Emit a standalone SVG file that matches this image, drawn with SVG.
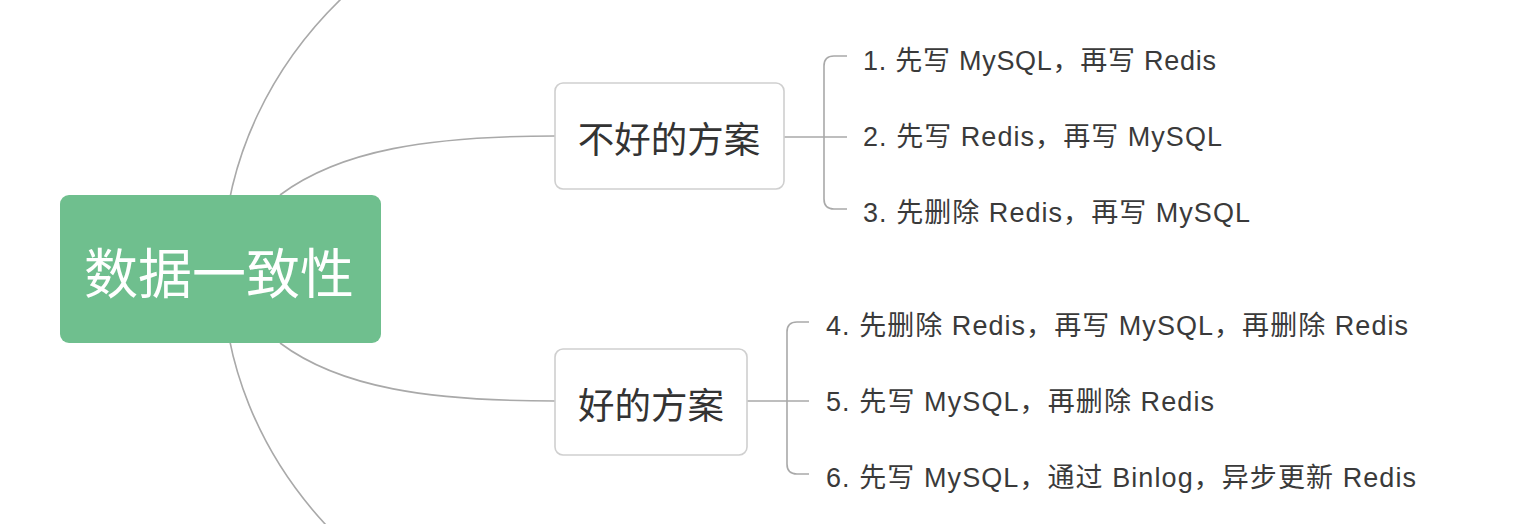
<svg xmlns="http://www.w3.org/2000/svg" width="1534" height="524" viewBox="0 0 1534 524">
<style>
.conn{fill:none;stroke:#a9a9a9;stroke-width:1.6}
.box{fill:#ffffff;stroke:#cfcfcf;stroke-width:1.6}
.root{fill:#6fbf8e}
.t{font-family:"Liberation Sans","Noto Sans CJK SC",sans-serif;fill:#3a3a3a;dominant-baseline:central}
.tb{font-family:"Noto Sans CJK SC",sans-serif;fill:#333333;font-size:36.5px;dominant-baseline:central;text-anchor:middle}
.leaf{font-size:27px}
</style>
<rect width="1534" height="524" fill="#ffffff"/>
<g id="connectors">
<path class="conn" d="M341,-1 A449,400 0 0 0 326,525"/>
<path class="conn" d="M280,195 C340,150 430,136 555,136"/>
<path class="conn" d="M280,343 C340,388 430,401 555,401"/>
<path class="conn" d="M784,137 L847,137"/>
<path class="conn" d="M847,56 L834,56 Q824,56 824,66 L824,199 Q824,209 834,209 L847,209"/>
<path class="conn" d="M747,401 L809,401"/>
<path class="conn" d="M809,322 L797,322 Q787,322 787,332 L787,464 Q787,474 797,474 L809,474"/>
</g>
<g id="root">
<rect class="root" x="60" y="195" width="321" height="148" rx="9"/>
<text class="tb" x="219" y="270" style="fill:#ffffff;font-size:54px">数据一致性</text>
</g>
<g id="bad">
<rect class="box" x="555" y="83" width="229" height="106" rx="8"/>
<text class="tb" x="669" y="137">不好的方案</text>
</g>
<g id="good">
<rect class="box" x="555" y="349" width="192" height="106" rx="8"/>
<text class="tb" x="651" y="403">好的方案</text>
</g>
<g id="leaf1"><text class="t leaf" x="863" y="61" textLength="353" lengthAdjust="spacing">1. 先写 MySQL，再写 Redis</text></g>
<g id="leaf2"><text class="t leaf" x="863" y="137" textLength="359" lengthAdjust="spacing">2. 先写 Redis，再写 MySQL</text></g>
<g id="leaf3"><text class="t leaf" x="863" y="213" textLength="387" lengthAdjust="spacing">3. 先删除 Redis，再写 MySQL</text></g>
<g id="leaf4"><text class="t leaf" x="826" y="326" textLength="582" lengthAdjust="spacing">4. 先删除 Redis，再写 MySQL，再删除 Redis</text></g>
<g id="leaf5"><text class="t leaf" x="826" y="402" textLength="388" lengthAdjust="spacing">5. 先写 MySQL，再删除 Redis</text></g>
<g id="leaf6"><text class="t leaf" x="826" y="478" textLength="590" lengthAdjust="spacing">6. 先写 MySQL，通过 Binlog，异步更新 Redis</text></g>
</svg>
